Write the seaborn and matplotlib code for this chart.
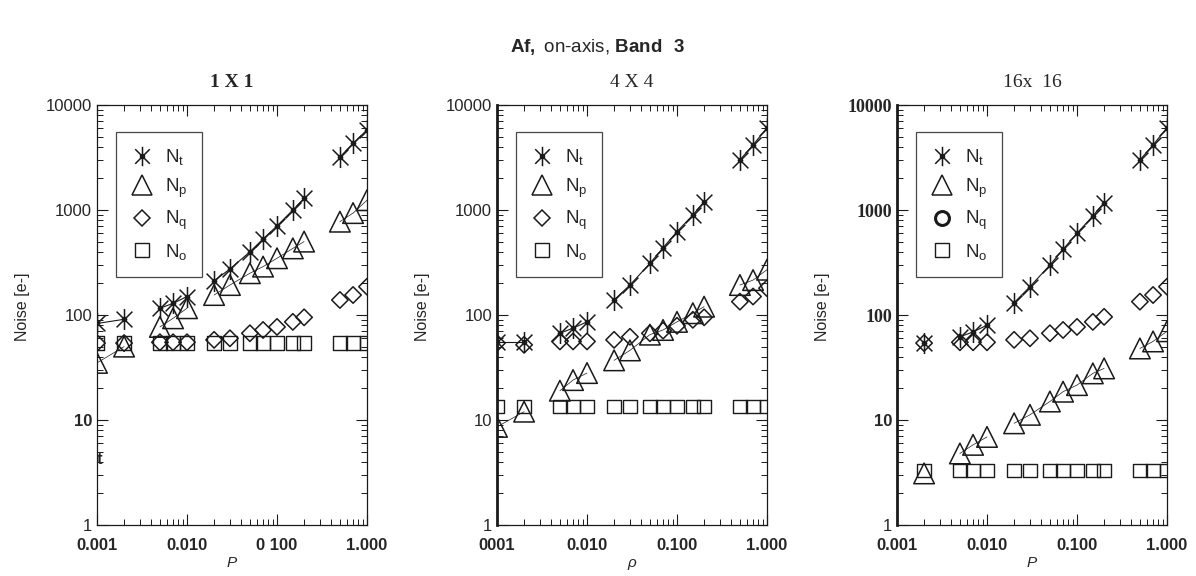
import numpy as np
import pandas as pd
import seaborn as sns
from matplotlib import pyplot as plt
from matplotlib.path import Path
from matplotlib.lines import Line2D

# rho values (panel 3 starts at 0.002)
rho = [0.001, 0.002, 0.005, 0.007, 0.01, 0.02, 0.03, 0.05, 0.07, 0.1, 0.15, 0.2, 0.5, 0.7, 1.0]
rho_16 = [0.002, 0.005, 0.007, 0.01, 0.02, 0.03, 0.05, 0.07, 0.1, 0.15, 0.2, 0.5, 0.7, 1.0]
groups = [0, 0, 1, 1, 1, 2, 2, 2, 2, 2, 2, 2, 3, 3, 3]
groups_16 = [0, 1, 1, 1, 2, 2, 2, 2, 2, 2, 2, 3, 3, 3]

# 1 X 1
nt_1 = [83, 91, 116, 129, 150, 212, 274, 400, 530, 705, 1000, 1290, 3200, 4300, 5800]
np_1 = [35, 50, 77, 93, 116, 155, 193, 250, 289, 347, 431, 500, 774, 935, 1240]
nq_1 = [54, 54, 55, 55, 55, 58, 60, 67, 72, 77, 86, 95, 139, 155, 186]
no_1 = [54, 54, 54, 54, 54, 54, 54, 54, 54, 54, 54, 54, 54, 54, 54]

# 4 X 4
nt_4 = [55, 55, 67, 75, 86, 139, 193, 310, 437, 622, 896, 1200, 3000, 4160, 6080]
np_4 = [8.6, 12, 19, 24, 28, 37, 46, 65, 72, 86, 104, 120, 193, 215, 270]
nq_4 = [54, 52, 56, 56, 56, 58, 62, 67, 71, 79, 90, 95, 134, 150, 180]
no_4 = [13.5, 13.5, 13.5, 13.5, 13.5, 13.5, 13.5, 13.5, 13.5, 13.5, 13.5, 13.5, 13.5, 13.5, 13.5]

# 16 X 16
nt_16 = [54, 62, 69, 80, 131, 186, 299, 422, 600, 877, 1175, 3000, 4160, 6080]
np_16 = [3.1, 4.8, 5.8, 6.9, 9.3, 11.2, 15, 18.6, 21.5, 27.8, 31, 48, 56, 70]
nq_16 = [54, 55, 55, 55, 58, 60, 67, 72, 77, 86, 96, 134, 155, 186]
no_16 = [3.3, 3.3, 3.3, 3.3, 3.3, 3.3, 3.3, 3.3, 3.3, 3.3, 3.3, 3.3, 3.3, 3.3]

titles = ['1 X 1', '4 X 4', '16x  16']
xlabels = ['P', 'ρ', 'P']
xticklabels = [['0.001', '0.010', '0 100', '1.000'],
               ['0001', '0.010', '0.100', '1.000'],
               ['0.001', '0.010', '0.100', '1.000']]
yticklabels = ['1', '10', '100', '1000', '10000']

sns.set_theme(style="ticks")
plt.rcParams['font.family'] = ['Liberation Sans', 'DejaVu Sans']
plt.rcParams['mathtext.fontset'] = 'custom'
plt.rcParams['mathtext.rm'] = 'Liberation Sans'
plt.rcParams['mathtext.bf'] = 'Liberation Sans:bold'

star = Path([(0, -1), (0, 1), (-0.75, -0.75), (0.75, 0.75), (-0.75, 0.75), (0.75, -0.75)],
            [Path.MOVETO, Path.LINETO] * 3)

panels = [
    (rho, groups, nt_1, np_1, nq_1, no_1),
    (rho, groups, nt_4, np_4, nq_4, no_4),
    (rho_16, groups_16, nt_16, np_16, nq_16, no_16),
]

fig = plt.figure(figsize=(11.96, 5.76), dpi=100)
fig.text(0.5, 1 - 47 / 576, r"$\mathbf{Af,}$ on-axis, $\mathbf{Band\ \ 3}$",
         ha='center', va='center', fontsize=13.5)

for i, (x, g, nt, npp, nq, no) in enumerate(panels):
    left = (97 + 400 * i) / 1196
    ax = fig.add_axes([left, 1 - 525 / 576, 270 / 1196, 420 / 576])
    df = pd.DataFrame({'rho': x, 'grp': g, 'Nt': nt, 'Np': npp, 'Nq': nq, 'No': no})

    sns.lineplot(data=df, x='rho', y='Nt', units='grp', estimator=None,
                 color='k', lw=0.8, ax=ax)
    sns.lineplot(data=df, x='rho', y='Np', units='grp', estimator=None,
                 color='k', lw=0.5, ax=ax)
    sns.scatterplot(data=df, x='rho', y='No', marker='s', s=95, facecolor='none',
                    edgecolor='k', linewidth=1.0, ax=ax, zorder=3)
    sns.scatterplot(data=df, x='rho', y='Nq', marker='D', s=70, facecolor='none',
                    edgecolor='k', linewidth=1.1, ax=ax, zorder=3)
    sns.scatterplot(data=df, x='rho', y='Np', marker='^', s=220, facecolor='none',
                    edgecolor='k', linewidth=1.1, ax=ax, zorder=3)
    sns.scatterplot(data=df, x='rho', y='Nt', marker=star, s=230, facecolor='k',
                    edgecolor='k', linewidth=1.1, ax=ax, zorder=4)
    sns.scatterplot(data=df, x='rho', y='Nt', marker='o', s=14, color='k',
                    edgecolor='k', ax=ax, zorder=5)

    ax.set_xscale('log')
    ax.set_yscale('log')
    ax.set_xlim(0.001, 1.0)
    ax.set_ylim(1, 10000)
    for s in ax.spines.values():
        s.set_linewidth(0.9)
        s.set_color('k')
    if i > 0:
        ax.spines['left'].set_linewidth(2)

    ax.tick_params(which='both', direction='in', top=True, right=True, color='k')
    ax.tick_params(which='major', length=8, width=0.8)
    ax.tick_params(which='minor', length=4, width=0.7)
    ax.tick_params(axis='x', which='major', pad=9)

    ax.set_xticks([0.001, 0.01, 0.1, 1.0])
    ax.set_xticklabels(xticklabels[i], fontsize=12, fontweight='bold')
    ax.set_yticks([1, 10, 100, 1000, 10000])
    ax.set_yticklabels(yticklabels, fontsize=12)
    ylabs = ax.get_yticklabels()
    if i == 0:
        ylabs[1].set_fontweight('bold')
    if i == 2:
        ylabs[1].set_fontweight('bold')
        for lab in ylabs[2:]:
            lab.set_family(['Liberation Serif', 'DejaVu Serif'])
            lab.set_fontweight('bold')
            lab.set_fontsize(13)

    ax.set_title(titles[i], fontsize=14, pad=13,
                 family=['Liberation Serif', 'DejaVu Serif'],
                 fontweight='bold' if i == 0 else 'normal')
    ax.set_ylabel('Noise [e-]', fontsize=11.5)
    ax.yaxis.set_label_coords(-0.25, 0.52)
    ax.set_xlabel(xlabels[i], fontsize=11, fontstyle='italic')
    ax.xaxis.set_label_coords(0.5, -0.074)

    if i == 0:
        ax.text(0.0, 0.155, 't', transform=ax.transAxes, fontsize=12,
                fontweight='bold', ha='left', va='center')

    h_t = (Line2D([], [], marker=star, color='k', ls='none', markersize=14, markeredgewidth=1.1),
           Line2D([], [], marker='o', color='k', ls='none', markersize=3))
    h_p = Line2D([], [], marker='^', color='k', mfc='none', ls='none', markersize=14, markeredgewidth=1.1)
    if i == 2:
        h_q = Line2D([], [], marker='o', color='k', mfc='none', ls='none', markersize=10, markeredgewidth=2.2)
    else:
        h_q = Line2D([], [], marker='D', color='k', mfc='none', ls='none', markersize=8.5, markeredgewidth=1.1)
    h_o = Line2D([], [], marker='s', color='k', mfc='none', ls='none', markersize=10, markeredgewidth=1.0)
    leg = ax.legend([h_t, h_p, h_q, h_o],
                    [r'$\mathregular{N_t}$', r'$\mathregular{N_p}$',
                     r'$\mathregular{N_q}$', r'$\mathregular{N_o}$'],
                    loc='upper left', bbox_to_anchor=(0.07, 0.935), borderaxespad=0,
                    fontsize=13.5, frameon=True, fancybox=False, edgecolor='k',
                    facecolor='none', handlelength=1.2, handletextpad=0.6,
                    labelspacing=0.5, borderpad=0.8)
    leg.get_frame().set_linewidth(0.9)

fig.savefig('out.png', dpi=100)
